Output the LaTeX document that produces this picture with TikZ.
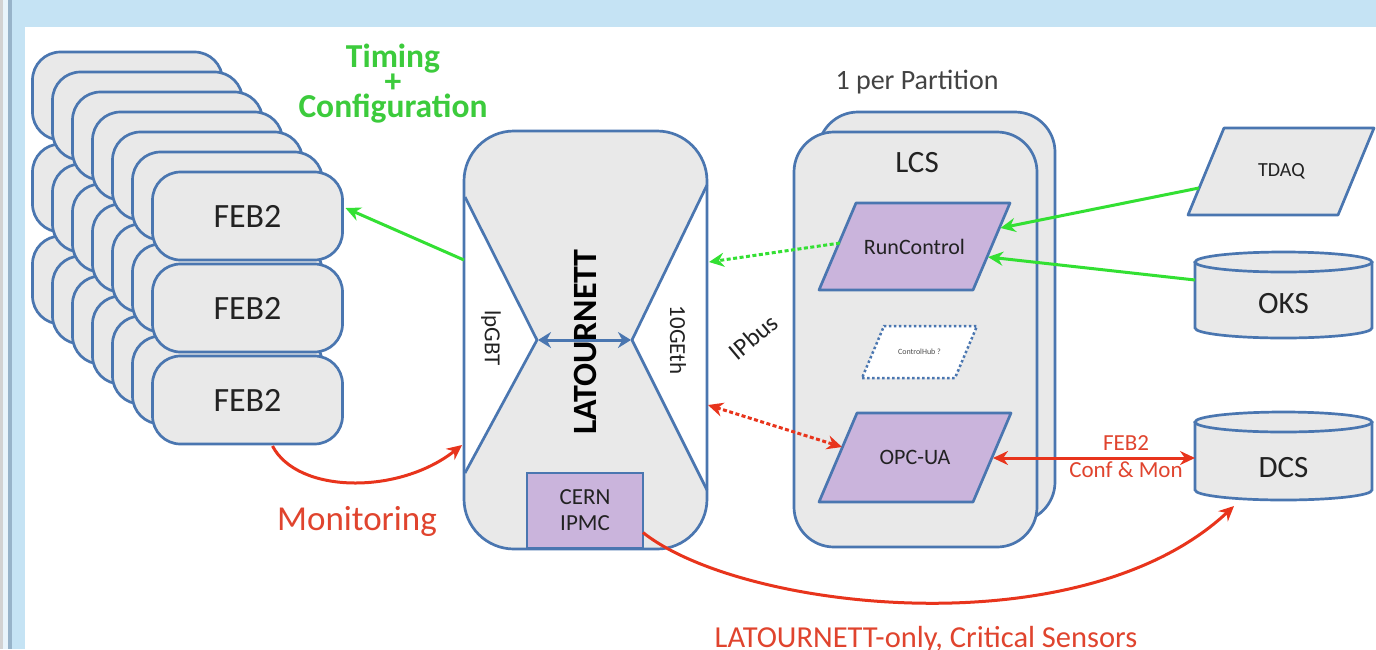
\documentclass[tikz,border=0pt]{standalone}
\usepackage{fontspec}
\setmainfont{Carlito}
\usetikzlibrary{arrows.meta,calc}
\definecolor{bblue}{HTML}{4A76B0}
\definecolor{lgrey}{HTML}{E9E9E9}
\definecolor{purp}{HTML}{CAB4DC}
\definecolor{gr}{HTML}{33E033}
\definecolor{rd}{HTML}{E8341C}
\definecolor{framebg}{HTML}{C5E3F4}
\definecolor{framedk}{HTML}{97B3C9}
\definecolor{txt}{HTML}{222222}
\definecolor{grtext}{HTML}{3CCB3C}
\definecolor{rdtext}{HTML}{E0442E}
\begin{document}
\begin{tikzpicture}[x=1pt,y=1pt,
  bd/.style={draw=bblue, line width=2.7pt},
  febbox/.style={bd, fill=lgrey, rounded corners=28pt, minimum width=190pt, minimum height=88pt, inner sep=0pt, outer sep=0pt, text=txt, font=\fontsize{34}{36}\selectfont},
  para/.style={bd, fill=purp, line join=round},
  ptext/.style={text=txt, font=\fontsize{22}{24}\selectfont},
  cyltext/.style={text=txt, font=\fontsize{31}{34}\selectfont},
  tip/.style={-{Stealth[length=15pt,width=14pt]}},
  dtip/.style={{Stealth[length=15pt,width=14pt]}-{Stealth[length=15pt,width=14pt]}},
  garr/.style={draw=gr, line width=3pt},
  rarr/.style={draw=rd, line width=3pt},
  dots/.style={dash pattern=on 4pt off 2.5pt}
]
\useasboundingbox (0,0) rectangle (1376,-649);
% frame
\fill[white] (0,0) rectangle (1376,-649);
\fill[framebg] (0,0) rectangle (1376,-27);
\fill[framebg] (0,0) rectangle (25,-649);
\fill[gray!35] (0,0) rectangle (3,-649);
\fill[white!60!framebg] (3,0) rectangle (8,-649);
\fill[framedk] (8,0) rectangle (12,-649);

% FEB2 stack
\foreach \k in {6,5,...,1}{
  \foreach \r in {0,1,2}{
    \node[febbox] (f\k\r) at ({247.5-20*\k},{-216-92*\r+20*\k}) {};
  }
}
\node[febbox] (feb1) at (247.5,-216) {FEB2};
\node[febbox] (feb2) at (247.5,-308) {FEB2};
\node[febbox] (feb3) at (247.5,-400) {FEB2};

\node[text=grtext, align=center, font=\bfseries\fontsize{33.5}{25}\selectfont] (timing) at (393,-84) {Timing\\+\\Configuration};
\node[text=rdtext, font=\fontsize{35}{36}\selectfont] (monit) at (357,-521) {Monitoring};

% LATOURNETT
\node[draw=none, fill=lgrey, minimum width=243pt, minimum height=418pt, rounded corners=50pt, outer sep=0pt, inner sep=0pt] (lat) at (585.5,-340) {};
\fill[white] (465,-197) -- (537,-340) -- (465,-473) -- cycle;
\fill[white] (707,-185) -- (632,-340) -- (707,-490) -- cycle;
\draw[bblue, line width=2.7pt, line join=round] (465,-197) -- (537,-340) -- (465,-473);
\draw[bblue, line width=2.7pt, line join=round] (707,-185) -- (632,-340) -- (707,-490);
\draw[bd, rounded corners=50pt] (lat.south west) rectangle (lat.north east);
\node[rotate=90, text=black, font=\bfseries\fontsize{34}{36}\selectfont] (latlabel) at (585,-342) {LATOURNETT};
\coordinate (apL) at (538,-340);
\coordinate (apR) at (631,-340);
\draw[draw=bblue, line width=3pt, {Stealth[length=13pt,width=16pt]}-{Stealth[length=13pt,width=16pt]}] (apL) -- (apR);
\node[rotate=-90, text=txt, font=\fontsize{23}{24}\selectfont] (lpgbt) at (491,-338) {lpGBT};
\node[rotate=-90, text=txt, font=\fontsize{23}{24}\selectfont] (geth) at (678,-340) {10GEth};
\node[rotate=40, text=txt, font=\fontsize{25}{26}\selectfont] (ipbus) at (753,-337) {IPbus};
\node[bd, fill=purp, minimum width=116pt, minimum height=75pt, inner sep=0pt, outer sep=0pt, align=center, text=txt, font=\fontsize{23}{26}\selectfont] (ipmc) at (585,-510.5) {CERN\\IPMC};

% LCS
\node[text=txt!85!white, font=\fontsize{28}{30}\selectfont] (perpart) at (917,-82) {1 per Partition};
\node[bd, fill=lgrey, minimum width=237pt, minimum height=410pt, rounded corners=40pt, outer sep=0pt] (lcsb) at (936.5,-317) {};
\node[bd, fill=lgrey, minimum width=243pt, minimum height=415pt, rounded corners=40pt, outer sep=0pt] (lcs) at (915.5,-339.5) {};
\node[text=txt, font=\fontsize{31}{32}\selectfont] (lcslabel) at (917,-163) {LCS};

\coordinate (rc) at (914.5,-246.5);
\draw[para] ($(rc)+(-95.5,-43.5)$) -- ++(154,0) -- ++(37,87) -- ++(-154,0) -- cycle;
\node[ptext] (rclabel) at (rc) {RunControl};

\coordinate (ch) at (919.5,-352);
\draw[draw=bblue, line width=2.5pt, fill=white, dash pattern=on 2.5pt off 2.5pt] ($(ch)+(-57.5,-26)$) -- ++(93,0) -- ++(22,52) -- ++(-93,0) -- cycle;
\node[text=txt!80!white, font=\fontsize{8}{9}\selectfont] (chlabel) at (ch) {ControlHub ?};

\coordinate (opc) at (915,-457.5);
\draw[para] ($(opc)+(-96,-44.5)$) -- ++(154,0) -- ++(38,89) -- ++(-154,0) -- cycle;
\node[ptext] (opclabel) at (opc) {OPC-UA};

% TDAQ
\coordinate (tdaq) at (1281.5,-171.5);
\draw[bd, fill=lgrey, line join=round] ($(tdaq)+(-93.5,-43.5)$) -- ++(150,0) -- ++(36,87) -- ++(-150,0) -- cycle;
\node[text=txt, font=\fontsize{20}{22}\selectfont] (tdaqlabel) at (tdaq) {TDAQ};

% OKS cylinder
\fill[lgrey] (1195,-262) -- (1195,-328) arc[start angle=180,end angle=360,x radius=88.5pt,y radius=10pt] -- (1372,-262) -- cycle;
\draw[bd] (1195,-262) -- (1195,-328) arc[start angle=180,end angle=360,x radius=88.5pt,y radius=10pt] -- (1372,-262);
\draw[bd, fill=lgrey] (1283.5,-262) ellipse[x radius=88.5pt, y radius=10pt];
\node[cyltext] (oks) at (1283.5,-304) {OKS};

% DCS cylinder
\fill[lgrey] (1195,-422) -- (1195,-490) arc[start angle=180,end angle=360,x radius=88.5pt,y radius=10pt] -- (1372,-422) -- cycle;
\draw[bd] (1195,-422) -- (1195,-490) arc[start angle=180,end angle=360,x radius=88.5pt,y radius=10pt] -- (1372,-422);
\draw[bd, fill=lgrey] (1283.5,-422) ellipse[x radius=88.5pt, y radius=10pt];
\node[cyltext] (dcs) at (1283.5,-468) {DCS};

% connectors
\draw[garr, tip] ($(lat.west)+(0,80)$) -- ($(feb1.east)+(3,8)$);
\draw[garr, dots, tip] ($(rc)+(-74.5,3.5)$) -- ($(lat.east)+(2,78)$);
\draw[garr, tip] ($(tdaq)+(-82.5,-16.5)$) -- ($(rc)+(86,18.5)$);
\draw[garr, tip] ($(oks)+(-88.5,24)$) -- ($(rc)+(73.5,-10.5)$);
\draw[rarr, dots, dtip] ($(lat.east)+(1,-65)$) -- ($(opc)+(-73,10.5)$);
\draw[rarr, dtip] ($(opc)+(78,-0.5)$) -- ($(dcs)+(-88.5,10)$);
\node[text=rdtext, font=\fontsize{23}{25}\selectfont] (febconf) at (1126,-443) {FEB2};
\node[text=rdtext, font=\fontsize{23}{25}\selectfont] (confmon) at (1126,-470) {Conf \& Mon};
\draw[rarr, tip] ($(feb3.south)+(25,-2)$) .. controls ($(feb3.south)+(50,-50)$) and ($(lat.west)+(-65,-155)$) .. ($(lat.west)+(-2,-105)$);
\draw[rarr, tip] ($(ipmc.east)+(0,-22)$) .. controls ($(ipmc.east)+(97,-99.5)$) and ($(dcs)+(-203.5,-182)$) .. ($(dcs)+(-49.5,-38)$);
\node[text=rdtext, anchor=base, font=\fontsize{30.5}{32}\selectfont] (crit) at (926,-647) {LATOURNETT-only, Critical Sensors};
\end{tikzpicture}
\end{document}
